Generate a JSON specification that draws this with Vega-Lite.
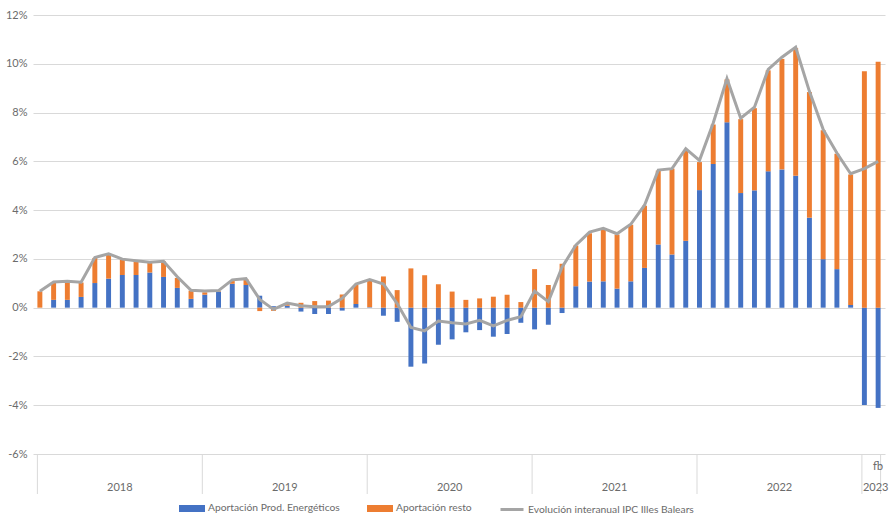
{
  "$schema": "https://vega.github.io/schema/vega-lite/v6.json",
  "padding": {"left": 5, "top": 9, "right": 0, "bottom": 0},
  "bounds": "flush",
  "config": {
    "view": {"stroke": null},
    "font": "Lato",
    "axis": {"labelFont": "Lato", "labelColor": "#6b6b6b", "labelFontSize": 11},
    "legend": {"labelFont": "Lato"},
    "text": {"font": "Lato", "fontSize": 11, "color": "#6b6b6b"}
  },
  "datasets": {
    "meses": [
      {"mes": "2018-01", "energ": 0.0, "resto": 0.67, "ipc": 0.67},
      {"mes": "2018-02", "energ": 0.32, "resto": 0.71, "ipc": 1.05},
      {"mes": "2018-03", "energ": 0.32, "resto": 0.72, "ipc": 1.08},
      {"mes": "2018-04", "energ": 0.44, "resto": 0.59, "ipc": 1.04},
      {"mes": "2018-05", "energ": 1.01, "resto": 1.03, "ipc": 2.06},
      {"mes": "2018-06", "energ": 1.19, "resto": 1.01, "ipc": 2.21},
      {"mes": "2018-07", "energ": 1.34, "resto": 0.63, "ipc": 1.99},
      {"mes": "2018-08", "energ": 1.34, "resto": 0.55, "ipc": 1.92},
      {"mes": "2018-09", "energ": 1.44, "resto": 0.4, "ipc": 1.86},
      {"mes": "2018-10", "energ": 1.26, "resto": 0.64, "ipc": 1.9},
      {"mes": "2018-11", "energ": 0.81, "resto": 0.41, "ipc": 1.27},
      {"mes": "2018-12", "energ": 0.36, "resto": 0.34, "ipc": 0.71},
      {"mes": "2019-01", "energ": 0.53, "resto": 0.1, "ipc": 0.68},
      {"mes": "2019-02", "energ": 0.66, "resto": 0.02, "ipc": 0.7},
      {"mes": "2019-03", "energ": 0.98, "resto": 0.11, "ipc": 1.14},
      {"mes": "2019-04", "energ": 0.93, "resto": 0.23, "ipc": 1.19},
      {"mes": "2019-05", "energ": 0.49, "resto": -0.14, "ipc": 0.34},
      {"mes": "2019-06", "energ": 0.06, "resto": -0.13, "ipc": -0.07},
      {"mes": "2019-07", "energ": 0.08, "resto": 0.08, "ipc": 0.19},
      {"mes": "2019-08", "energ": -0.16, "resto": 0.2, "ipc": 0.08},
      {"mes": "2019-09", "energ": -0.26, "resto": 0.27, "ipc": 0.04},
      {"mes": "2019-10", "energ": -0.26, "resto": 0.29, "ipc": 0.05},
      {"mes": "2019-11", "energ": -0.12, "resto": 0.54, "ipc": 0.38},
      {"mes": "2019-12", "energ": 0.15, "resto": 0.78, "ipc": 0.97},
      {"mes": "2020-01", "energ": 0.02, "resto": 1.1, "ipc": 1.15},
      {"mes": "2020-02", "energ": -0.33, "resto": 1.28, "ipc": 0.97},
      {"mes": "2020-03", "energ": -0.58, "resto": 0.72, "ipc": 0.17},
      {"mes": "2020-04", "energ": -2.42, "resto": 1.61, "ipc": -0.81},
      {"mes": "2020-05", "energ": -2.29, "resto": 1.33, "ipc": -0.95},
      {"mes": "2020-06", "energ": -1.52, "resto": 0.96, "ipc": -0.55},
      {"mes": "2020-07", "energ": -1.3, "resto": 0.66, "ipc": -0.62},
      {"mes": "2020-08", "energ": -1.01, "resto": 0.32, "ipc": -0.67},
      {"mes": "2020-09", "energ": -0.92, "resto": 0.38, "ipc": -0.52},
      {"mes": "2020-10", "energ": -1.19, "resto": 0.45, "ipc": -0.75},
      {"mes": "2020-11", "energ": -1.08, "resto": 0.53, "ipc": -0.52},
      {"mes": "2020-12", "energ": -0.62, "resto": 0.23, "ipc": -0.37},
      {"mes": "2021-01", "energ": -0.89, "resto": 1.58, "ipc": 0.68},
      {"mes": "2021-02", "energ": -0.7, "resto": 0.93, "ipc": 0.25},
      {"mes": "2021-03", "energ": -0.22, "resto": 1.8, "ipc": 1.66},
      {"mes": "2021-04", "energ": 0.88, "resto": 1.67, "ipc": 2.56},
      {"mes": "2021-05", "energ": 1.07, "resto": 1.98, "ipc": 3.1},
      {"mes": "2021-06", "energ": 1.08, "resto": 2.14, "ipc": 3.25},
      {"mes": "2021-07", "energ": 0.78, "resto": 2.22, "ipc": 3.03},
      {"mes": "2021-08", "energ": 1.08, "resto": 2.32, "ipc": 3.42},
      {"mes": "2021-09", "energ": 1.63, "resto": 2.55, "ipc": 4.2},
      {"mes": "2021-10", "energ": 2.59, "resto": 3.03, "ipc": 5.64},
      {"mes": "2021-11", "energ": 2.18, "resto": 3.52, "ipc": 5.7},
      {"mes": "2021-12", "energ": 2.74, "resto": 3.7, "ipc": 6.52},
      {"mes": "2022-01", "energ": 4.82, "resto": 1.15, "ipc": 6.04},
      {"mes": "2022-02", "energ": 5.89, "resto": 1.62, "ipc": 7.57},
      {"mes": "2022-03", "energ": 7.6, "resto": 1.76, "ipc": 9.39},
      {"mes": "2022-04", "energ": 4.7, "resto": 3.03, "ipc": 7.77},
      {"mes": "2022-05", "energ": 4.81, "resto": 3.37, "ipc": 8.22},
      {"mes": "2022-06", "energ": 5.59, "resto": 4.14, "ipc": 9.77},
      {"mes": "2022-07", "energ": 5.67, "resto": 4.53, "ipc": 10.27},
      {"mes": "2022-08", "energ": 5.41, "resto": 5.23, "ipc": 10.68},
      {"mes": "2022-09", "energ": 3.69, "resto": 5.15, "ipc": 8.87},
      {"mes": "2022-10", "energ": 1.99, "resto": 5.28, "ipc": 7.31},
      {"mes": "2022-11", "energ": 1.58, "resto": 4.73, "ipc": 6.34},
      {"mes": "2022-12", "energ": 0.11, "resto": 5.35, "ipc": 5.49},
      {"mes": "2023-01", "energ": -3.99, "resto": 9.69, "ipc": 5.7},
      {"mes": "2023-02", "energ": -4.11, "resto": 10.08, "ipc": 6.0}
    ],
    "anios": [
      {"anio": "2018", "inicio": "2018-01", "centro": "2018-07"},
      {"anio": "2019", "inicio": "2019-01", "centro": "2019-07"},
      {"anio": "2020", "inicio": "2020-01", "centro": "2020-07"},
      {"anio": "2021", "inicio": "2021-01", "centro": "2021-07"},
      {"anio": "2022", "inicio": "2022-01", "centro": "2022-07"},
      {"anio": "2023", "inicio": "2023-01", "centro": "2023-02"}
    ]
  },
  "vconcat": [
    {
      "width": 852,
      "height": 439,
      "data": {"name": "meses"},
      "layer": [
        {
          "transform": [{"fold": ["energ", "resto"], "as": ["serie", "valor"]}],
          "mark": {"type": "bar"},
          "encoding": {
            "x": {"field": "mes", "type": "ordinal", "axis": null, "scale": {"paddingInner": 0.64, "paddingOuter": 0.32}},
            "y": {
              "field": "valor", "type": "quantitative",
              "scale": {"domain": [-6, 12], "nice": false, "zero": false},
              "axis": {
                "title": null, "values": [-6, -4, -2, 0, 2, 4, 6, 8, 10, 12],
                "labelExpr": "datum.value + '%'", "domain": false, "ticks": false,
                "gridColor": "#d9d9d9", "gridWidth": 1, "labelPadding": 6
              }
            },
            "order": {"field": "serie", "sort": "ascending"},
            "color": {
              "field": "serie", "type": "nominal",
              "scale": {"domain": ["energ", "resto", "ipc"], "range": ["#4472c4", "#ed7d31", "#a5a5a5"]},
              "legend": {
                "title": null, "orient": "none", "direction": "horizontal",
                "legendX": 146, "legendY": 480,
                "labelExpr": "datum.value == 'energ' ? 'Aportación Prod. Energéticos' : datum.value == 'resto' ? 'Aportación resto' : 'Evolución interanual IPC Illes Balears'",
                "labelFontSize": 10.3, "labelColor": "#6b6b6b", "labelLimit": 400, "symbolSize": 529,
                "columnPadding": 22, "labelOffset": 3,
                "encode": {
                  "symbols": {
                    "update": {
                      "shape": {"signal": "datum.value == 'ipc' ? 'stroke' : 'M-1,-0.18H1V0.18H-1Z'"},
                      "fill": {"signal": "datum.value == 'energ' ? '#4472c4' : datum.value == 'resto' ? '#ed7d31' : 'transparent'"},
                      "stroke": {"signal": "datum.value == 'ipc' ? '#a5a5a5' : 'transparent'"},
                      "strokeWidth": {"value": 3},
                      "opacity": {"value": 1}
                    }
                  }
                }
              }
            }
          }
        },
        {
          "mark": {"type": "line", "strokeWidth": 3},
          "encoding": {
            "x": {"field": "mes", "type": "ordinal", "axis": null},
            "y": {"field": "ipc", "type": "quantitative"},
            "color": {"datum": "ipc"}
          }
        }
      ]
    },
    {
      "width": 852,
      "height": 40,
      "layer": [
        {
          "data": {"name": "anios"},
          "mark": {"type": "rule", "color": "#d9d9d9", "strokeWidth": 1},
          "encoding": {"x": {"field": "inicio", "type": "ordinal", "bandPosition": 0, "axis": null}}
        },
        {
          "data": {"values": [{"fin": "2023-02"}]},
          "mark": {"type": "rule", "color": "#d9d9d9", "strokeWidth": 1},
          "encoding": {"x": {"field": "fin", "type": "ordinal", "bandPosition": 1, "axis": null}}
        },
        {
          "data": {"name": "anios"},
          "mark": {"type": "text", "dy": 14},
          "encoding": {
            "x": {"field": "centro", "type": "ordinal", "bandPosition": 0, "axis": null},
            "text": {"field": "anio"}
          }
        },
        {
          "data": {"values": [{"mes": "2023-02", "etiqueta": "fb"}]},
          "mark": {"type": "text", "dy": -7},
          "encoding": {
            "x": {"field": "mes", "type": "ordinal", "axis": null},
            "text": {"field": "etiqueta"}
          }
        }
      ]
    }
  ],
  "spacing": 0,
  "resolve": {"scale": {"x": "shared"}}
}
